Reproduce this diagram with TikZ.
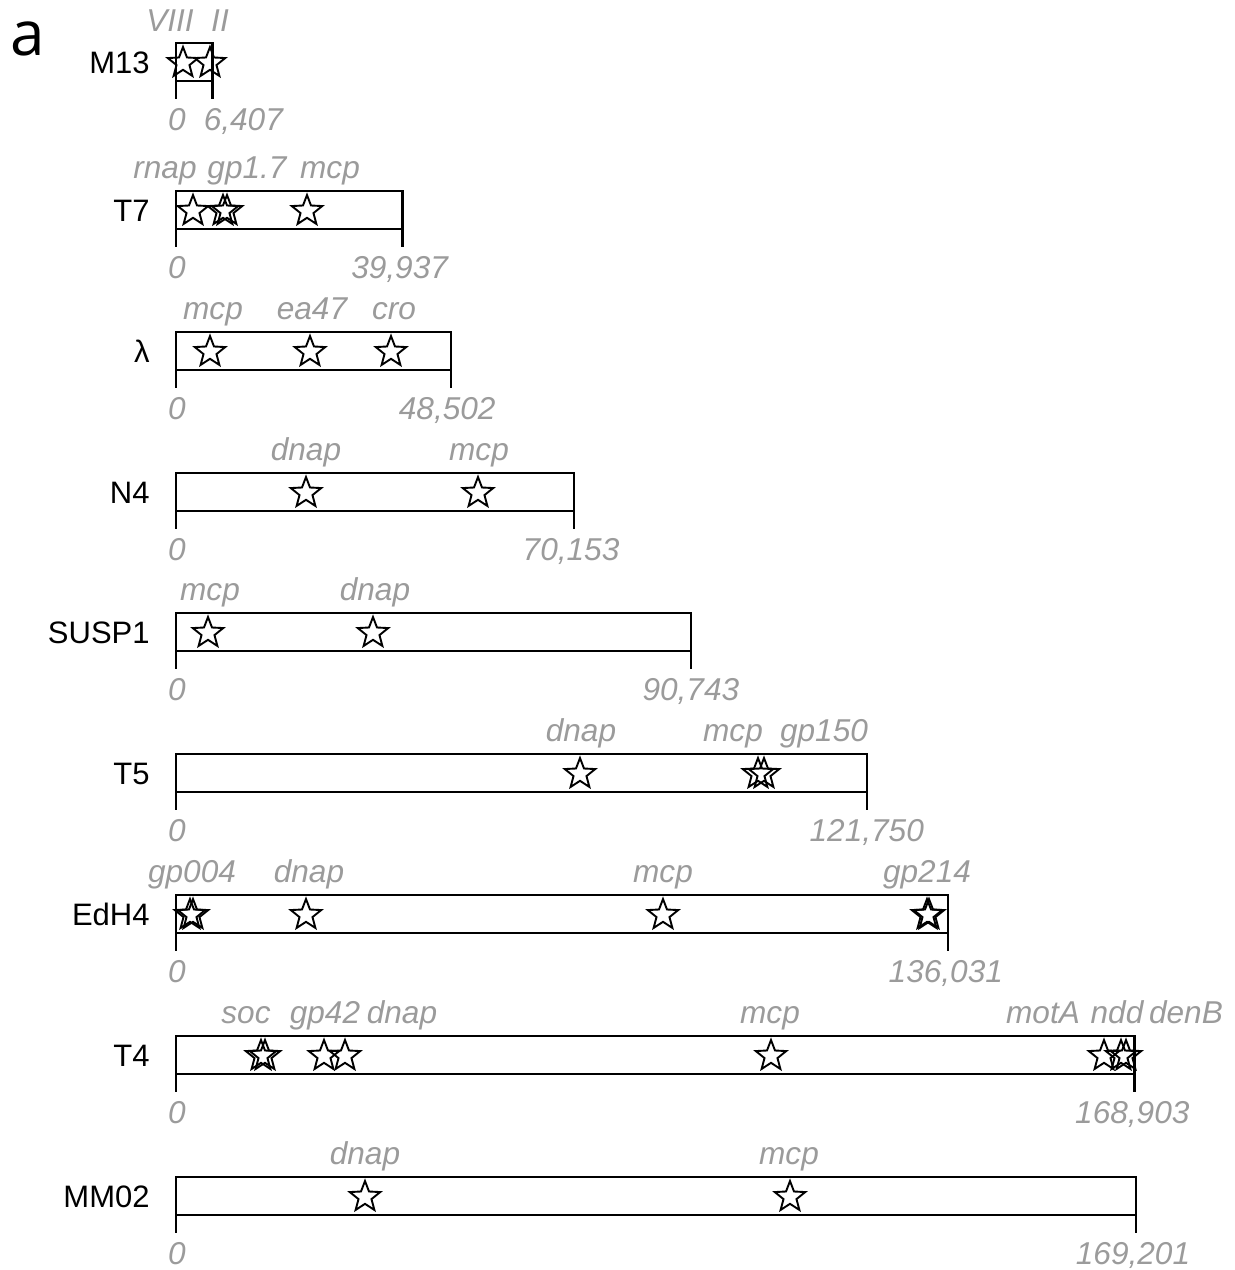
\documentclass[tikz,border=0pt]{standalone}
\usepackage{fontspec}
\setmainfont{Liberation Sans}
\newfontfamily\panelfont{Open Sans}
\usetikzlibrary{shapes.geometric}
\definecolor{lblgray}{RGB}{155,155,155}
\tikzset{
  %% ---- genomes ----
  genome/.style   = {draw=black, line width=1.25pt},
  site/.style     = {star, star points=5, star point ratio=2.35,
                     draw=black, line width=0.95pt, minimum size=16pt,
                     inner sep=0pt},
  %% ---- labels ----
  phage/.style    = {font=\fontsize{15.5}{18}\selectfont,
                     anchor=base east, inner sep=0pt},
  genelbl/.style  = {text=lblgray, font=\fontsize{15.8}{18}\selectfont\itshape,
                     anchor=base, inner sep=0pt},
  coordlbl/.style = {genelbl},
}

\begin{document}
\begin{tikzpicture}[x=0.5pt, y=-0.5pt]
  \useasboundingbox (0,0) rectangle (1235,1270);

  \node[font=\panelfont\fontsize{31}{34}\selectfont, anchor=base west,
        inner sep=0pt] (panel) at (10,55) {a};

  \foreach \id/\name/\top/\len/\endlbl/\shift in {
      m13/M13/43/6.407/{6,407}/31,
      t7/T7/191/39.937/{39,937}/-3,
      lambda/λ/332/48.502/{48,502}/-4,
      n4/N4/473/70.153/{70,153}/-3,
      susp1/SUSP1/613/90.743/{90,743}/0,
      t5/T5/754/121.750/{121,750}/0,
      edh4/EdH4/895/136.031/{136,031}/-2,
      t4/T4/1036/168.903/{168,903}/-2,
      mm02/MM02/1177/169.201/{169,201}/-3}{
    \pgfmathsetmacro\xe{176+\len/169.201*960}
    \draw[genome] (176,\top) rectangle (\xe,\top+38);
    \draw[genome] (176,\top+38) -- (176,\top+56);
    \draw[genome] (\xe,\top+38) -- (\xe,\top+56);
    \node[phage] (\id-name) at (150,\top+30) {\name};
    \node[coordlbl] (\id-start) at (177,\top+87) {0};
    \node[coordlbl] (\id-end) at (\xe+\shift,\top+87) {\endlbl};
  }

  %% M13
  \node[site] (m13-viii) at (183,63) {};
  \node[site] (m13-ii)   at (210,63) {};
  \node[genelbl] at (170,31) {VIII};
  \node[genelbl] at (220,31) {II};

  %% T7
  \node[site] (t7-rnap)  at (193,211) {};
  \node[site] (t7-gpa)   at (223,211) {};
  \node[site] (t7-gpb)   at (227,211) {};
  \node[site] (t7-mcp)   at (307,211) {};
  \node[genelbl] at (165,178) {rnap};
  \node[genelbl] at (247,178) {gp1.7};
  \node[genelbl] at (330,178) {mcp};

  %% lambda
  \node[site] (lambda-mcp)  at (210,352) {};
  \node[site] (lambda-ea47) at (310,352) {};
  \node[site] (lambda-cro)  at (391,352) {};
  \node[genelbl] at (213,319) {mcp};
  \node[genelbl] at (312,319) {ea47};
  \node[genelbl] at (394,319) {cro};

  %% N4
  \node[site] (n4-dnap) at (306,493) {};
  \node[site] (n4-mcp)  at (478,493) {};
  \node[genelbl] at (306,460) {dnap};
  \node[genelbl] at (479,460) {mcp};

  %% SUSP1
  \node[site] (susp1-mcp)  at (208,633) {};
  \node[site] (susp1-dnap) at (373,633) {};
  \node[genelbl] at (210,600) {mcp};
  \node[genelbl] at (375,600) {dnap};

  %% T5
  \node[site] (t5-dnap)  at (580,774) {};
  \node[site] (t5-mcp)   at (758,774) {};
  \node[site] (t5-gp150) at (764,774) {};
  \node[genelbl] at (581,741) {dnap};
  \node[genelbl] at (733,741) {mcp};
  \node[genelbl] at (824,741) {gp150};

  %% EdH4
  \node[site] (edh4-gpa)   at (190,915) {};
  \node[site] (edh4-gpb)   at (193,915) {};
  \node[site] (edh4-dnap)  at (306,915) {};
  \node[site] (edh4-mcp)   at (663,915) {};
  \node[site] (edh4-gpc)   at (927,915) {};
  \node[site] (edh4-gpd)   at (929,915) {};
  \node[genelbl] at (192,882) {gp004};
  \node[genelbl] at (309,882) {dnap};
  \node[genelbl] at (663,882) {mcp};
  \node[genelbl] at (927,882) {gp214};

  %% T4
  \node[site] (t4-soca)  at (261,1056) {};
  \node[site] (t4-socb)  at (265,1056) {};
  \node[site] (t4-gp42)  at (324,1056) {};
  \node[site] (t4-dnap)  at (345,1056) {};
  \node[site] (t4-mcp)   at (771,1056) {};
  \node[site] (t4-mota)  at (1104,1056) {};
  \node[site] (t4-ndd)   at (1121,1056) {};
  \node[site] (t4-denb)  at (1126,1056) {};
  \node[genelbl] at (246,1023) {soc};
  \node[genelbl] at (325,1023) {gp42};
  \node[genelbl] at (402,1023) {dnap};
  \node[genelbl] at (770,1023) {mcp};
  \node[genelbl] at (1043,1023) {motA};
  \node[genelbl] at (1117,1023) {ndd};
  \node[genelbl] at (1186,1023) {denB};

  %% MM02
  \node[site] (mm02-dnap) at (365,1197) {};
  \node[site] (mm02-mcp)  at (790,1197) {};
  \node[genelbl] at (365,1164) {dnap};
  \node[genelbl] at (789,1164) {mcp};

\end{tikzpicture}
\end{document}
